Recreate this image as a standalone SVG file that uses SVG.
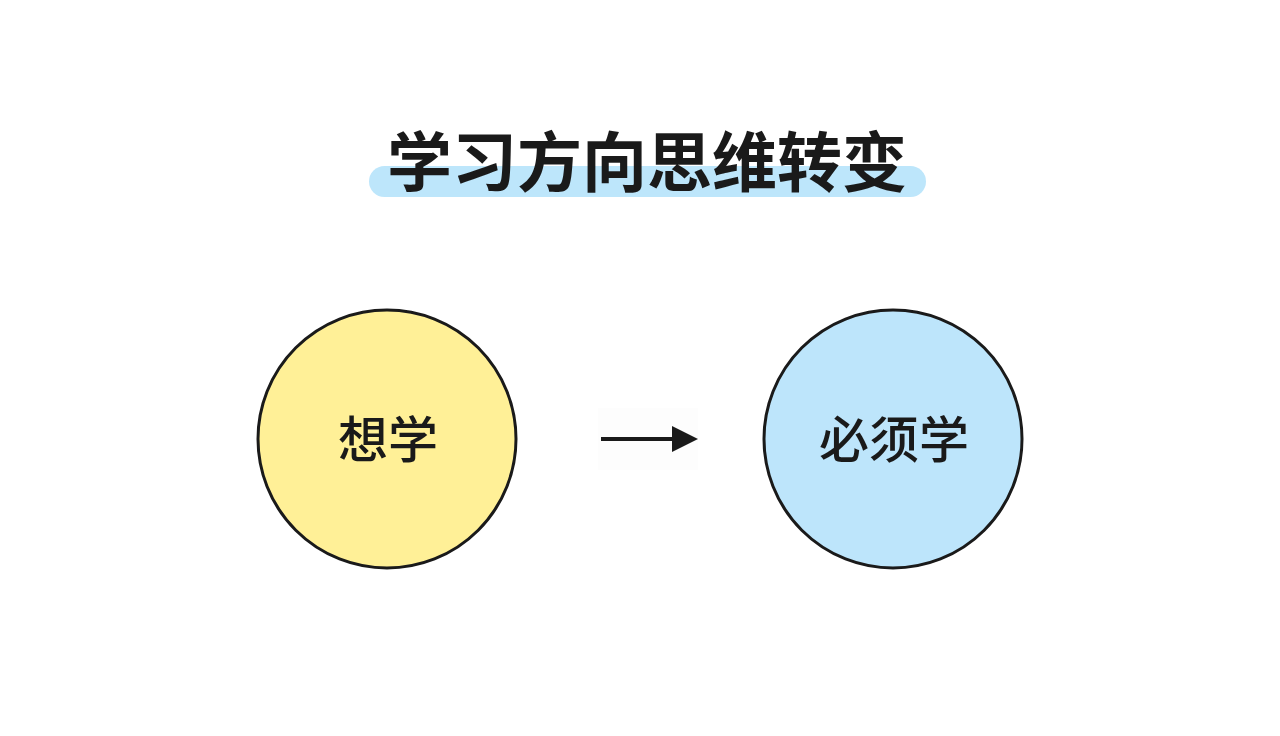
<svg xmlns="http://www.w3.org/2000/svg" width="1280" height="736" viewBox="0 0 1280 736">
<defs>
<style>
.title{font-family:"Noto Sans CJK SC","Noto Sans",sans-serif;font-weight:700;font-size:65px;fill:#1a1a1a;text-anchor:middle}
.lbl{font-family:"Noto Sans CJK SC","Noto Sans",sans-serif;font-weight:500;font-size:50px;fill:#1a1a1a;text-anchor:middle}
.node{stroke:#1a1a1a;stroke-width:3}
</style>
<marker id="ah" viewBox="0 0 26 26" refX="0" refY="13" markerWidth="26" markerHeight="26" markerUnits="userSpaceOnUse" orient="auto">
<path d="M0,0 L26,13 L0,26 Z" fill="#1a1a1a"/>
</marker>
</defs>
<rect width="1280" height="736" fill="#ffffff"/>
<g id="title">
<rect x="369" y="166" width="557" height="31" rx="15.5" fill="#bde6fb"/>
<text class="title" x="647" y="186">学习方向思维转变</text>
</g>
<g id="node-want">
<circle class="node" cx="387" cy="439" r="129" fill="#fff097"/>
<text class="lbl" x="388" y="458">想学</text>
</g>
<g id="node-must">
<circle class="node" cx="893" cy="439" r="129" fill="#bde5fb"/>
<text class="lbl" x="894" y="458">必须学</text>
</g>
<g id="connectors">
<rect x="598" y="408" width="100" height="62" fill="#fdfdfd"/>
<line x1="601" y1="439" x2="672" y2="439" stroke="#1a1a1a" stroke-width="4" marker-end="url(#ah)"/>
</g>
</svg>
